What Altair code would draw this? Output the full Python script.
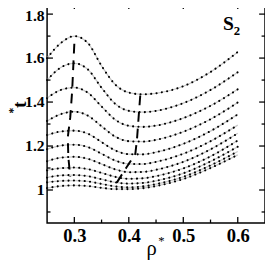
import altair as alt
import pandas as pd

# ---- data ----
rho = [0.25, 0.275, 0.30, 0.325, 0.35, 0.375, 0.40, 0.425, 0.45, 0.50, 0.55, 0.60]
c1 = [1.600, 1.668, 1.700, 1.668, 1.565, 1.480, 1.443, 1.435, 1.440, 1.472, 1.537, 1.628]
c2 = [1.500, 1.557, 1.576, 1.548, 1.465, 1.392, 1.360, 1.354, 1.360, 1.395, 1.455, 1.536]
c3 = [1.418, 1.455, 1.466, 1.442, 1.380, 1.320, 1.292, 1.287, 1.293, 1.327, 1.383, 1.458]
c4 = [1.314, 1.345, 1.356, 1.338, 1.290, 1.243, 1.222, 1.220, 1.228, 1.265, 1.322, 1.398]
c5 = [1.250, 1.266, 1.270, 1.256, 1.218, 1.180, 1.163, 1.162, 1.172, 1.210, 1.268, 1.344]
c6 = [1.186, 1.202, 1.206, 1.195, 1.165, 1.134, 1.119, 1.118, 1.128, 1.165, 1.222, 1.295]
c7 = [1.131, 1.147, 1.151, 1.142, 1.118, 1.094, 1.081, 1.082, 1.092, 1.128, 1.185, 1.258]
c8 = [1.090, 1.099, 1.102, 1.095, 1.078, 1.060, 1.051, 1.053, 1.063, 1.098, 1.153, 1.225]
c9 = [1.057, 1.066, 1.068, 1.063, 1.049, 1.035, 1.029, 1.032, 1.042, 1.076, 1.130, 1.197]
c10 = [1.035, 1.041, 1.043, 1.039, 1.028, 1.016, 1.012, 1.016, 1.027, 1.060, 1.112, 1.175]
c11 = [1.009, 1.018, 1.021, 1.018, 1.010, 1.004, 1.004, 1.008, 1.018, 1.050, 1.100, 1.160]
curves = [c1, c2, c3, c4, c5, c6, c7, c8, c9, c10, c11]

max_rho = [0.300, 0.296, 0.2925, 0.288, 0.289, 0.2925]
max_t = [1.665, 1.45, 1.33, 1.24, 1.15, 1.06]
min_rho = [0.421, 0.418, 0.415, 0.412, 0.395, 0.377]
min_t = [1.43, 1.33, 1.23, 1.165, 1.10, 1.03]

x_major = [0.3, 0.4, 0.5, 0.6]
x_minor = [0.35, 0.45, 0.55]
y_major = [1.0, 1.2, 1.4, 1.6, 1.8]
y_minor = [0.9, 1.1, 1.3, 1.5, 1.7]

W, H = 223, 225
FONT = "Liberation Serif"

rows = []
for k, c in enumerate(curves):
    for xv, yv in zip(rho, c):
        rows.append({"x": xv, "y": yv, "curve": k})
df = pd.DataFrame(rows)

ridge = pd.DataFrame(
    [{"x": a, "y": b, "line": "max", "i": i} for i, (a, b) in enumerate(zip(max_rho, max_t))]
    + [{"x": a, "y": b, "line": "min", "i": i} for i, (a, b) in enumerate(zip(min_rho, min_t))]
)

xs = alt.Scale(domain=[0.25, 0.65], nice=False, zero=False)
ys = alt.Scale(domain=[0.85, 1.85], nice=False, zero=False)

xaxis = alt.Axis(values=x_major, format=".1f", labelFont=FONT, labelFontWeight="bold",
                 labelFontSize=19, labelColor="black", tickSize=0, domain=False, grid=False,
                 labelPadding=4, title=None)
yaxis = alt.Axis(values=y_major, format="~g", labelFont=FONT, labelFontWeight="bold",
                 labelFontSize=16, labelColor="black", tickSize=0, domain=False, grid=False,
                 labelPadding=3, title=None,
                 labelOffset={"condition": {"test": "datum.value > 1.7", "value": 2}, "value": 0})

X = alt.X("x:Q", scale=xs, axis=xaxis)
Y = alt.Y("y:Q", scale=ys, axis=yaxis)

gray = alt.Chart(df).mark_line(color="#c8c8c8", strokeWidth=1.3, interpolate="monotone").encode(
    x=X, y=Y, detail="curve:N")
dots = alt.Chart(df).mark_line(color="black", strokeWidth=2.1, strokeDash=[0.1, 5.4],
                               strokeCap="round", interpolate="monotone").encode(
    x=X, y=Y, detail="curve:N")
dashes = alt.Chart(ridge).mark_line(color="black", strokeWidth=2.0, strokeDash=[10, 7]).encode(
    x=X, y=Y, detail="line:N", order="i:Q")

def xticks(vals, length):
    d = pd.DataFrame({"x": vals})
    b = alt.Chart(d).mark_rule(color="black", strokeWidth=1.3).encode(
        x=X, y=alt.value(H), y2=alt.value(H - length))
    t = alt.Chart(d).mark_rule(color="black", strokeWidth=1.3).encode(
        x=X, y=alt.value(0), y2=alt.value(length))
    return b + t

def yticks(vals, length):
    d = pd.DataFrame({"y": vals})
    l = alt.Chart(d).mark_rule(color="black", strokeWidth=1.3).encode(
        y=Y, x=alt.value(0), x2=alt.value(length))
    r = alt.Chart(d).mark_rule(color="black", strokeWidth=1.3).encode(
        y=Y, x=alt.value(W), x2=alt.value(W - length))
    return l + r

one = pd.DataFrame({"a": [0]})
def label(txt, px, py, size, weight="bold", angle=0, align="left", baseline="alphabetic"):
    return alt.Chart(one).mark_text(text=txt, font=FONT, fontSize=size, fontWeight=weight,
                                    color="black", angle=angle, align=align,
                                    baseline=baseline).encode(x=alt.value(px), y=alt.value(py))

texts = (
    label("S", 180, 28, 20)
    + label("2", 191, 33, 13)
    + label("t", -28, 104, 20, angle=270, align="center", baseline="middle")
    + label("*", -35, 110, 12, angle=270, align="center", baseline="middle")
    + label("ρ", 107, 258, 21, weight="normal", align="center")
    + label("*", 117, 248, 13, weight="normal", align="center")
)

chart = alt.layer(
    gray, dots, dashes,
    xticks(x_major, 6), xticks(x_minor, 3.5),
    yticks(y_major, 6), yticks(y_minor, 3.5),
    texts,
).properties(
    width=W, height=H,
    padding={"left": 40, "top": -8, "right": 0, "bottom": 40},
    autosize="none",
).configure_view(stroke="black", strokeWidth=1.5)

chart.save("out.html", embed_options={"renderer": "svg", "actions": False})
